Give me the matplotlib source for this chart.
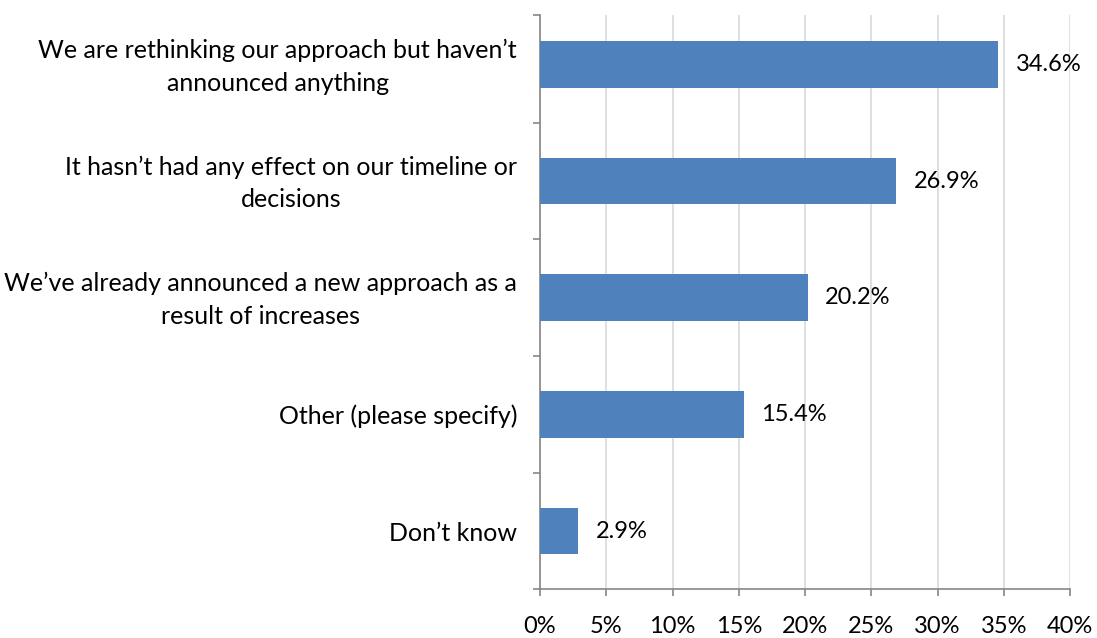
import matplotlib
matplotlib.use("Agg")
import matplotlib.pyplot as plt
from matplotlib.ticker import FixedLocator, PercentFormatter
from matplotlib.transforms import ScaledTranslation

categories = [
    "We are rethinking our approach but haven\u2019t\nannounced anything",
    "It hasn\u2019t had any effect on our timeline or\ndecisions",
    "We\u2019ve already announced a new approach as a\nresult of increases",
    "Other (please specify)",
    "Don\u2019t know",
]
values = [34.6, 26.9, 20.2, 15.4, 2.9]
xticks = [0, 5, 10, 15, 20, 25, 30, 35, 40]

plt.rcParams['font.family'] = ['Lato', 'DejaVu Sans']

fig = plt.figure(figsize=(10.97, 6.38), dpi=100)
ax = fig.add_axes([0.4923, 0.0763, 0.4831, 0.9002])

n = len(categories)
ypos = list(range(n))[::-1]
ax.barh(ypos, values, height=0.40, color='#4F81BD', zorder=3)

for y, v in zip(ypos, values):
    ax.annotate(f"{v:.1f}%", (v, y), xytext=(12.5, 0), textcoords='offset points',
                va='center', ha='left', fontsize=17, color='black')

# category labels as plain text so the two-line ones can be centred on the bar
nudge = ax.get_yaxis_transform() + ScaledTranslation(0, -1.5 / 72, fig.dpi_scale_trans)
for y, cat in zip(ypos, categories):
    multi = "\n" in cat
    ax.text(-0.0434, y, cat, transform=nudge if multi else ax.get_yaxis_transform(),
            ha='right', va='center' if multi else 'center_baseline',
            multialignment='center', linespacing=1.5, fontsize=18)

top = n - 0.575
ax.set_xlim(0, 40)
ax.set_ylim(-0.5, top)
ax.set_xticks(xticks)
ax.xaxis.set_major_formatter(PercentFormatter(decimals=0))
ax.set_yticks([])
ax.yaxis.set_minor_locator(FixedLocator([i - 0.5 for i in range(n)] + [top]))

ax.grid(axis='x', color='#D9D9D9', linewidth=1.2, zorder=0)
for s in ['top', 'right']:
    ax.spines[s].set_visible(False)
for s in ['left', 'bottom']:
    ax.spines[s].set_color('#868686')
    ax.spines[s].set_linewidth(1.2)

ax.tick_params(axis='y', which='minor', length=5, color='#868686', width=1.2)
ax.tick_params(axis='x', length=5, color='#868686', width=1.2, pad=14, labelsize=17)

fig.savefig("out.png", dpi=100)
